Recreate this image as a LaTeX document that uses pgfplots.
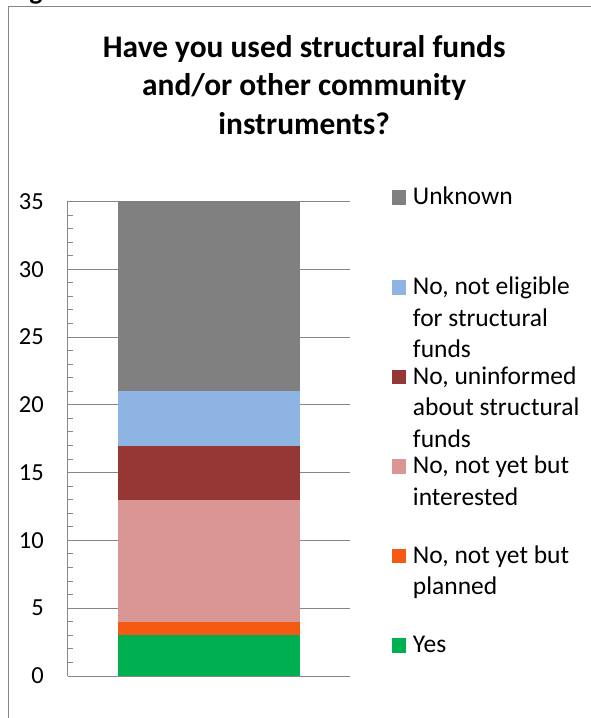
\documentclass[border=0pt]{standalone}
\usepackage{fontspec}
\setmainfont{Carlito}
\usepackage{pgfplots}
\pgfplotsset{compat=1.18}
\definecolor{cUnk}{HTML}{808080}
\definecolor{cBlue}{HTML}{8EB4E3}
\definecolor{cDRed}{HTML}{953735}
\definecolor{cPink}{HTML}{D99694}
\definecolor{cOrange}{HTML}{F55A14}
\definecolor{cGreen}{HTML}{00B050}
\definecolor{cGrid}{HTML}{868686}
\newcommand{\legtxt}[1]{\parbox[t]{180pt}{\rule{0pt}{22pt}#1}}
\begin{document}
\begin{tikzpicture}
\useasboundingbox (0pt,0pt) rectangle (591pt,718pt);
\fill[white] (0pt,0pt) rectangle (591pt,718pt);
\begin{scope}
\clip (0pt,712pt) rectangle (591pt,718pt);
\node[anchor=base, inner sep=0pt, font=\fontsize{28}{30}\selectfont\bfseries] at (36pt,718.8pt) {g};
\end{scope}
\draw[cGrid, line width=1.3pt] (8.5pt,0pt) -- (8.5pt,711.3pt) -- (591pt,711.3pt);
\begin{scope}[font=\fontsize{31.4}{38.4}\selectfont\bfseries]
\node[anchor=base, inner sep=0pt] at (304.2pt,660.3pt) {Have you used structural funds};
\node[anchor=base, inner sep=0pt] at (304.2pt,622pt) {and/or other community};
\node[anchor=base, inner sep=0pt] at (304.2pt,583.7pt) {instruments?};
\end{scope}
\begin{axis}[
  at={(68pt,42pt)}, anchor=south west,
  scale only axis, width=282pt, height=474.5pt,
  xmin=0, xmax=1, ymin=0, ymax=35,
  ybar stacked, bar width=182pt,
  axis x line*=bottom, axis y line*=left,
  axis line style={cGrid, line width=1pt, -},
  xtick=\empty,
  ytick={0,5,...,35},
  minor y tick num=4,
  ymajorgrids, grid style={cGrid, line width=1pt},
  tick align=inside,
  major tick length=5pt, minor tick length=5pt,
  every tick/.style={cGrid, line width=1pt},
  /pgf/number format/assume math mode=true,
  yticklabel style={font=\fontsize{24.5}{29}\selectfont, inner sep=0pt, anchor=east, xshift=-24pt},
  reverse legend,
  legend style={at={(axis description cs:1.1489,1.0390)}, anchor=north west,
    draw=none, fill=none, inner sep=0pt, outer sep=0pt, row sep=0pt,
    font=\fontsize{25.5}{31.5}\selectfont,
    nodes={inner sep=0pt, outer sep=0pt, anchor=base west}},
  legend cell align=left,
  area legend,
  legend image code/.code={\fill[#1] (0pt,0pt) rectangle (14.5pt,14.5pt); \path (21pt,0pt) (0pt,-67.6pt);},
]
\addplot[fill=cGreen, draw=none] coordinates {(0.5,3)};
\addplot[fill=cOrange, draw=none] coordinates {(0.5,1)};
\addplot[fill=cPink, draw=none] coordinates {(0.5,9)};
\addplot[fill=cDRed, draw=none] coordinates {(0.5,4)};
\addplot[fill=cBlue, draw=none] coordinates {(0.5,4)};
\addplot[fill=cUnk, draw=none] coordinates {(0.5,14)};
\legend{{\legtxt{Yes}},{\legtxt{No, not yet but\\planned}},{\legtxt{No, not yet but\\interested}},{\legtxt{No, uninformed\\about structural\\funds}},{\legtxt{No, not eligible\\for structural\\funds}},{\legtxt{Unknown}}}
\end{axis}
\end{tikzpicture}
\end{document}
